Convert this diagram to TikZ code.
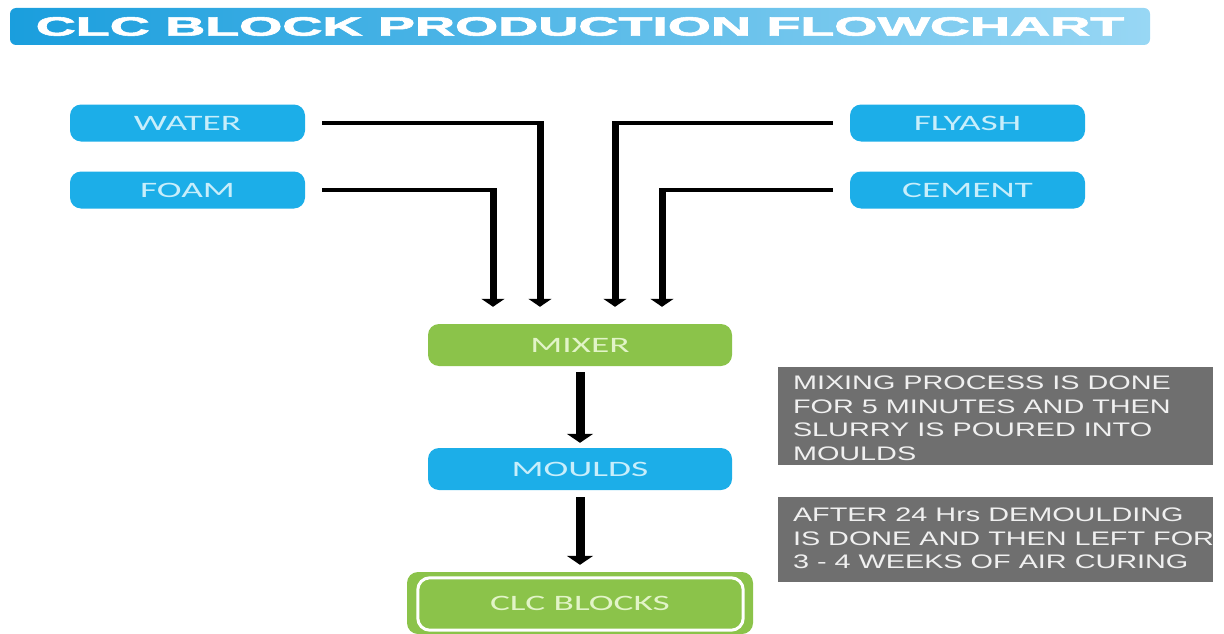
\documentclass[tikz,border=0pt]{standalone}
\usepackage{fontspec}
\usepackage{graphicx}
\setmainfont{Liberation Sans}
\newfontfamily\titlefont[FakeBold=2]{Liberation Sans Bold}
\newfontfamily\lblfont[FakeStretch=1.7]{Carlito}
\newfontfamily\notefont[FakeStretch=1.47]{Liberation Sans}
\usetikzlibrary{arrows.meta}
\definecolor{boxblue}{HTML}{1CAEE8}
\definecolor{lblblue}{HTML}{C8EEFB}
\definecolor{boxgreen}{HTML}{8BC34A}
\definecolor{lblgreen}{HTML}{E2F4C8}
\definecolor{notegray}{HTML}{6F6F6F}
\definecolor{notetxt}{HTML}{F0F0F0}
\definecolor{titleL}{HTML}{1A9EDD}
\definecolor{titleR}{HTML}{98D7F4}
\begin{document}
\begin{tikzpicture}[x=1pt,y=-1pt,
  inbox/.style={rounded corners=11pt, fill=boxblue, text=lblblue, minimum width=235pt, minimum height=37pt, inner sep=0pt, font=\lblfont\fontsize{22}{22}\selectfont},
  midblue/.style={inbox, minimum width=304pt, minimum height=42pt},
  midgreen/.style={midblue, fill=boxgreen, text=lblgreen},
  titlebar/.style={rounded corners=6pt, left color=titleL, right color=titleR, minimum width=1140pt, minimum height=37pt, inner sep=0pt, text=white},
  notebox/.style={fill=notegray, minimum width=435pt, inner sep=0pt},
  notetext/.style={text=notetxt, inner sep=0pt, align=left, font=\notefont\fontsize{19.6}{23.5}\selectfont},
  hline/.style={line width=4pt},
  vline/.style={line width=7pt, -{Triangle[width=23pt,length=8pt]}, shorten >=17pt},
  bigarrow/.style={line width=9pt, -{Triangle[width=26pt,length=9pt]}}
]
\useasboundingbox (0,0) rectangle (1224,634);

% title
\node[titlebar] (title) at (580,26.5) {\resizebox{1088pt}{18.5pt}{\titlefont CLC BLOCK PRODUCTION FLOWCHART}};

% inputs
\node[inbox] (water)  at (187.5,123) {WATER};
\node[inbox] (foam)   at (187.5,190) {FOAM};
\node[inbox] (flyash) at (967.5,123) {FLYASH};
\node[inbox] (cement) at (967.5,190) {CEMENT};

% main flow
\node[midgreen] (mixer) at (580,345) {MIXER};
\node[midblue] (moulds) at (580,469) {MOULDS};
\node[midgreen, minimum width=346pt, minimum height=62pt] (clc) at (580,603) {CLC BLOCKS};
\draw[white, line width=3pt, rounded corners=12pt]
  ([shift={(11pt,-6pt)}]clc.north west) rectangle ([shift={(-10pt,4pt)}]clc.south east);

% corner coordinates
\coordinate (cw) at (540,0);
\coordinate (cf) at (493,0);
\coordinate (cy) at (615,0);
\coordinate (cc) at (662,0);

% input connectors
\draw[hline] ([xshift=17pt]water.east) -- ([xshift=3.5pt]water.east -| cw);
\draw[vline] ([yshift=2pt]water.east -| cw) -- (cw |- mixer.north);
\draw[hline] ([xshift=17pt]foam.east) -- ([xshift=3.5pt]foam.east -| cf);
\draw[vline] ([yshift=2pt]foam.east -| cf) -- (cf |- mixer.north);
\draw[hline] ([xshift=-17pt]flyash.west) -- ([xshift=-3.5pt]flyash.west -| cy);
\draw[vline] ([yshift=2pt]flyash.west -| cy) -- (cy |- mixer.north);
\draw[hline] ([xshift=-17pt]cement.west) -- ([xshift=-3.5pt]cement.west -| cc);
\draw[vline] ([yshift=2pt]cement.west -| cc) -- (cc |- mixer.north);

% flow arrows
\draw[bigarrow, shorten <=6pt, shorten >=5pt] (mixer) -- (moulds);
\draw[bigarrow, shorten <=7pt, shorten >=7pt] (moulds) -- (clc);

% notes
\node[notebox, minimum height=98pt] (note1) at (995.5,416) {};
\node[notetext, anchor=north west] (note1text) at ([xshift=15pt,yshift=-9pt]note1.north west)
  {MIXING PROCESS IS DONE\\FOR 5 MINUTES AND THEN\\SLURRY IS POURED INTO\\MOULDS};
\node[notebox, minimum height=85pt] (note2) at (995.5,539.5) {};
\begin{scope}
\clip (note2.north west) rectangle (note2.south east);
\node[notetext, anchor=north west] (note2text) at ([xshift=15pt,yshift=-11pt]note2.north west)
  {AFTER 24 Hrs DEMOULDING\\IS DONE AND THEN LEFT FOR\\3 - 4 WEEKS OF AIR CURING};
\end{scope}
\end{tikzpicture}
\end{document}
